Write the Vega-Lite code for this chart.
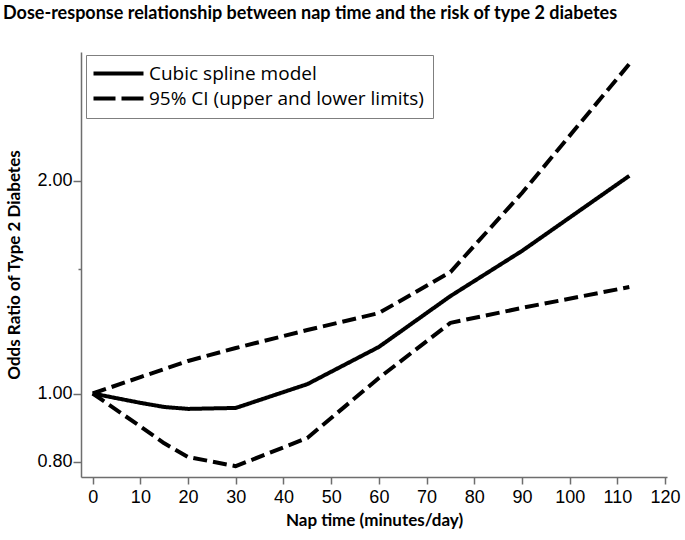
{
  "$schema": "https://vega.github.io/schema/vega-lite/v6.json",
  "width": 586,
  "height": 425,
  "autosize": {"type": "none"},
  "padding": {"left": 81, "top": 52, "right": 18, "bottom": 63},
  "background": "white",
  "title": {
    "text": "Dose-response relationship between nap time and the risk of type 2 diabetes",
    "anchor": "start",
    "frame": "group",
    "dx": -78,
    "offset": 29,
    "font": "Lato",
    "fontSize": 18,
    "fontWeight": "bold",
    "color": "black"
  },
  "config": {
    "view": {"stroke": null},
    "axis": {
      "domainColor": "#6e6e6e",
      "domainWidth": 1.5,
      "tickColor": "#6e6e6e",
      "tickWidth": 1.5,
      "labelColor": "black",
      "labelFont": "Liberation Sans",
      "labelFontSize": 18,
      "titleFont": "Lato",
      "titleFontSize": 18,
      "titleFontWeight": "bold",
      "titleColor": "black",
      "grid": false
    }
  },
  "data": {
    "values": [
      {"nap": 0, "or": 1.0, "line": "est", "series": "Cubic spline model"},
      {"nap": 10, "or": 0.970, "line": "est", "series": "Cubic spline model"},
      {"nap": 15, "or": 0.957, "line": "est", "series": "Cubic spline model"},
      {"nap": 20, "or": 0.951, "line": "est", "series": "Cubic spline model"},
      {"nap": 30, "or": 0.954, "line": "est", "series": "Cubic spline model"},
      {"nap": 45, "or": 1.031, "line": "est", "series": "Cubic spline model"},
      {"nap": 60, "or": 1.164, "line": "est", "series": "Cubic spline model"},
      {"nap": 75, "or": 1.374, "line": "est", "series": "Cubic spline model"},
      {"nap": 90, "or": 1.592, "line": "est", "series": "Cubic spline model"},
      {"nap": 112.5, "or": 2.034, "line": "est", "series": "Cubic spline model"},
      {"nap": 0, "or": 1.0, "line": "upper", "series": "95% CI (upper and lower limits)"},
      {"nap": 10, "or": 1.055, "line": "upper", "series": "95% CI (upper and lower limits)"},
      {"nap": 20, "or": 1.112, "line": "upper", "series": "95% CI (upper and lower limits)"},
      {"nap": 30, "or": 1.160, "line": "upper", "series": "95% CI (upper and lower limits)"},
      {"nap": 45, "or": 1.230, "line": "upper", "series": "95% CI (upper and lower limits)"},
      {"nap": 60, "or": 1.300, "line": "upper", "series": "95% CI (upper and lower limits)"},
      {"nap": 75, "or": 1.486, "line": "upper", "series": "95% CI (upper and lower limits)"},
      {"nap": 90, "or": 1.923, "line": "upper", "series": "95% CI (upper and lower limits)"},
      {"nap": 112.5, "or": 2.929, "line": "upper", "series": "95% CI (upper and lower limits)"},
      {"nap": 0, "or": 1.0, "line": "lower", "series": "95% CI (upper and lower limits)"},
      {"nap": 10, "or": 0.898, "line": "lower", "series": "95% CI (upper and lower limits)"},
      {"nap": 15, "or": 0.850, "line": "lower", "series": "95% CI (upper and lower limits)"},
      {"nap": 20, "or": 0.813, "line": "lower", "series": "95% CI (upper and lower limits)"},
      {"nap": 30, "or": 0.789, "line": "lower", "series": "95% CI (upper and lower limits)"},
      {"nap": 45, "or": 0.865, "line": "lower", "series": "95% CI (upper and lower limits)"},
      {"nap": 60, "or": 1.052, "line": "lower", "series": "95% CI (upper and lower limits)"},
      {"nap": 75, "or": 1.259, "line": "lower", "series": "95% CI (upper and lower limits)"},
      {"nap": 90, "or": 1.322, "line": "lower", "series": "95% CI (upper and lower limits)"},
      {"nap": 112.5, "or": 1.415, "line": "lower", "series": "95% CI (upper and lower limits)"}
    ]
  },
  "encoding": {
    "x": {
      "field": "nap",
      "type": "quantitative",
      "scale": {"domain": [-2.45, 120.4], "nice": false, "zero": false},
      "axis": {
        "values": [0, 10, 20, 30, 40, 50, 60, 70, 80, 90, 100, 110, 120],
        "title": "Nap time (minutes/day)",
        "titleFontSize": 17,
        "tickSize": 7,
        "labelPadding": 4,
        "titlePadding": 6
      }
    },
    "y": {
      "field": "or",
      "type": "quantitative",
      "scale": {"type": "log", "domain": [0.7616, 3.046], "nice": false},
      "axis": {
        "values": [0.8, 1, 1.5, 2],
        "labelExpr": "datum.value == 1.5 ? '' : format(datum.value, '.2f')",
        "tickSize": {"condition": {"test": "datum.value == 1.5", "value": 3}, "value": 8},
        "labelPadding": 1,
        "title": "Odds Ratio of Type 2 Diabetes",
        "titleFontSize": 17,
        "titlePadding": 13
      }
    },
    "detail": {"field": "line"}
  },
  "layer": [
    {
      "mark": {"type": "line", "strokeWidth": 4, "color": "black", "strokeJoin": "round"},
      "encoding": {
        "strokeDash": {
          "field": "series",
          "type": "nominal",
          "scale": {
            "domain": ["Cubic spline model", "95% CI (upper and lower limits)"],
            "range": [[1, 0], [14, 6]]
          },
          "legend": null
        }
      }
    },
    {
      "mark": {"type": "line", "strokeWidth": 4, "color": "black", "opacity": 0},
      "encoding": {
        "strokeDash": {
          "field": "series",
          "type": "nominal",
          "scale": {
            "domain": ["Cubic spline model", "95% CI (upper and lower limits)"],
            "range": [[1, 0], [22, 6]]
          },
          "legend": {
            "title": null,
            "orient": "none",
            "legendX": 5,
            "legendY": 3,
            "padding": 9,
            "strokeColor": "#7f7f7f",
            "symbolType": "M-2.2,0H7.8",
            "symbolSize": 100,
            "symbolStrokeWidth": 4,
            "symbolStrokeColor": "black",
            "symbolOpacity": 1,
            "labelFont": "Open Sans",
            "labelFontSize": 19,
            "labelColor": "black",
            "labelOffset": 35,
            "labelLimit": 400,
            "rowPadding": 5
          }
        }
      }
    }
  ],
  "resolve": {"scale": {"strokeDash": "independent"}, "legend": {"strokeDash": "independent"}}
}
